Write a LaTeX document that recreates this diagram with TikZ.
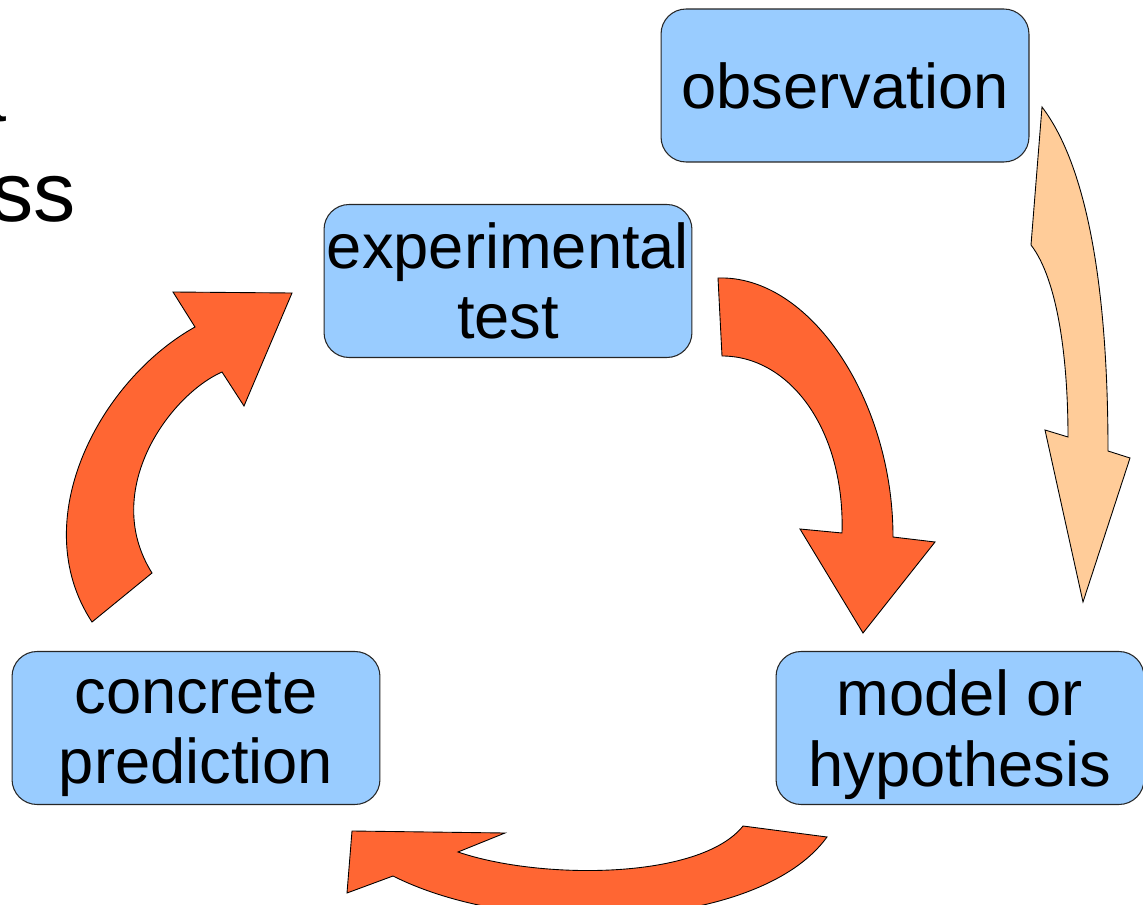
\documentclass[tikz,border=0pt]{standalone}
\usepackage{fontspec}
\setmainfont{Liberation Sans}
\definecolor{boxblue}{HTML}{99CCFF}
\definecolor{arrred}{HTML}{FF6633}
\definecolor{arrpale}{HTML}{FFCC99}
\tikzset{
  stagebox/.style={draw=black!85, line width=0.6pt, fill=boxblue, rounded corners=0.5cm,
    minimum width=7.36cm, minimum height=3.06cm, inner sep=0pt, align=center,
    font=\fontsize{36pt}{40pt}\selectfont},
  bigarrow/.style={draw=black, line width=0.5pt, fill=arrred, line join=miter},
  palearrow/.style={draw=black, line width=0.5pt, fill=arrpale, line join=miter},
  titletext/.style={inner sep=0pt, font=\fontsize{48pt}{57pt}\selectfont}
}
\begin{document}
\begin{tikzpicture}[x=0.02cm,y=-0.02cm]
\useasboundingbox (0,0) rectangle (1143,905);
\clip (0,0) rectangle (1143,905);
\fill[white] (0,0) rectangle (1143,905);
% partial title text at the left edge
\node[titletext, anchor=base east] (tA) at (7,122) {a};
\node[titletext, anchor=base east] (tB) at (76,222) {ss};
% boxes
\node[stagebox] (obs) at (845,85.5) {observation};
\node[stagebox] (exp) at (508,281) {experimental\\test};
\node[stagebox, text depth=0pt] (pred) at (196,728) {concrete\\prediction};
\node[stagebox, text depth=0pt] (model) at (960,728) {model or\\hypothesis};
% observation -> model (pale arrow)
\draw[palearrow] (1042,107) -- (1031,245)
  .. controls (1058,280) and (1068,360) .. (1068,437)
  -- (1045,430) -- (1083,602) -- (1130,458) -- (1108,451)
  .. controls (1108,300) and (1090,170) .. (1042,107) -- cycle;
% experimental -> model
\draw[bigarrow] (718,278)
  .. controls (810,275) and (893,400) .. (893,537)
  -- (935,542) -- (863,633) -- (800,529) -- (842,533)
  .. controls (845,430) and (790,356) .. (722,356) -- cycle;
% model -> prediction
\draw[bigarrow] (743,826) -- (827,837)
  .. controls (760,930) and (520,940) .. (393,876)
  -- (347,893) -- (352,831) -- (505,833) -- (458,852)
  .. controls (540,880) and (700,880) .. (743,826) -- cycle;
% prediction -> experimental
\draw[bigarrow] (92,622) -- (152,573)
  .. controls (100,490) and (170,395) .. (222,372)
  -- (244,406) -- (292,293) -- (173,292) -- (195,327)
  .. controls (100,380) and (25,520) .. (92,622) -- cycle;
\end{tikzpicture}
\end{document}
